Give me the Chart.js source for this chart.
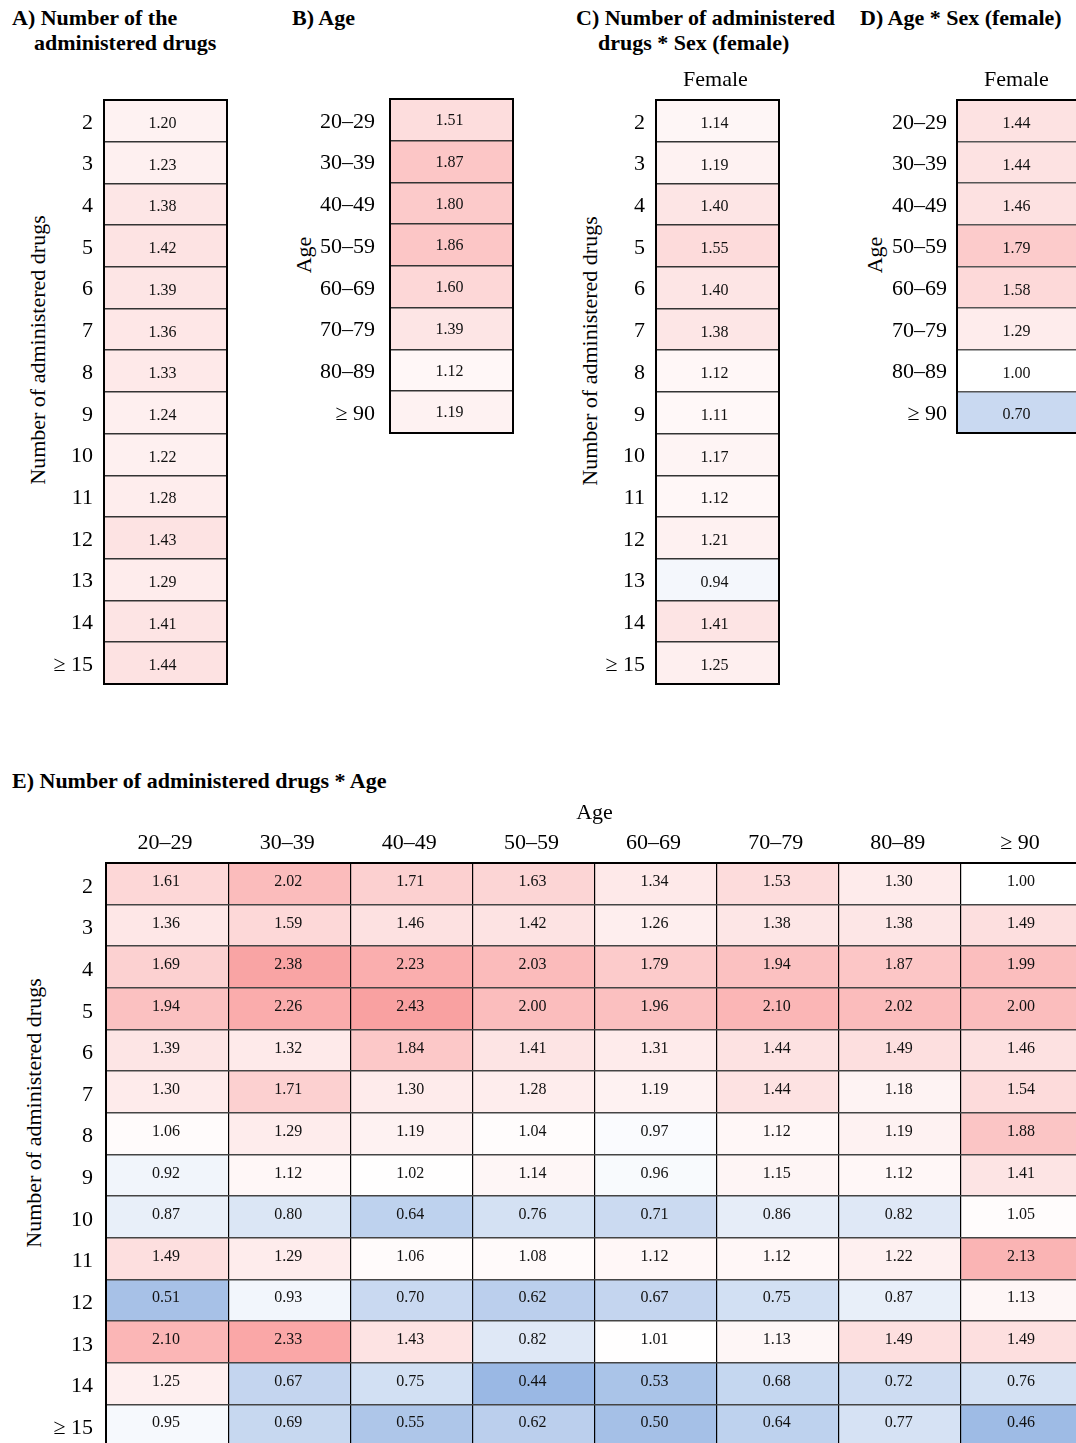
<!DOCTYPE html>
<html>
<head>
<meta charset="utf-8">
<title>Odds ratios by number of administered drugs, age and sex</title>
<script src="https://cdn.jsdelivr.net/npm/chart.js@4.4.1/dist/chart.umd.min.js"></script>
<style>
  html, body { margin: 0; padding: 0; background: #fff; }
  body {
    width: 1076px; height: 1443px; overflow: hidden; position: relative;
    font-family: 'Liberation Serif', 'Times New Roman', serif; color: #000;
  }
  .panel-title {
    position: absolute; font-weight: bold; font-size: 22px; line-height: 25px; white-space: nowrap;
  }
  .panel-title .cont { padding-left: 22px; }
  .axis-title {
    position: absolute; font-size: 22px; line-height: 26px; white-space: nowrap;
    transform: translate(-50%, -50%) rotate(-90deg);
  }
  canvas { position: absolute; }
</style>
</head>
<body>

<div class="panel-title" style="left:12px;top:5px">A) Number of the<br><span class="cont">administered drugs</span></div>
<div class="panel-title" style="left:292px;top:5px">B) Age</div>
<div class="panel-title" style="left:576px;top:5px">C) Number of administered<br><span class="cont">drugs * Sex (female)</span></div>
<div class="panel-title" style="left:860px;top:5px">D) Age * Sex (female)</div>
<div class="panel-title" style="left:12px;top:768px">E) Number of administered drugs * Age</div>

<div class="axis-title" style="left:38px;top:350px">Number of administered drugs</div>
<div class="axis-title" style="left:304px;top:255px">Age</div>
<div class="axis-title" style="left:590px;top:351px">Number of administered drugs</div>
<div class="axis-title" style="left:875px;top:255px">Age</div>
<div class="axis-title" style="left:34px;top:1113px">Number of administered drugs</div>

<canvas id="chartA" width="240" height="620" style="left:0px;top:80px"></canvas>
<canvas id="chartB" width="250" height="370" style="left:280px;top:80px"></canvas>
<canvas id="chartC" width="240" height="650" style="left:560px;top:50px"></canvas>
<canvas id="chartD" width="240" height="400" style="left:850px;top:50px"></canvas>
<canvas id="chartE" width="1100" height="660" style="left:0px;top:800px"></canvas>

<script>
// Row / column categories
const drugCounts = ['2', '3', '4', '5', '6', '7', '8', '9', '10', '11', '12', '13', '14', '≥ 15'];
const ageGroups = ['20–29', '30–39', '40–49', '50–59', '60–69', '70–79', '80–89', '≥ 90'];
const femaleHeader = ['Female'];

// A) number of administered drugs
const drugsOR = [1.20, 1.23, 1.38, 1.42, 1.39, 1.36, 1.33, 1.24, 1.22, 1.28, 1.43, 1.29, 1.41, 1.44];
// B) age
const ageOR = [1.51, 1.87, 1.80, 1.86, 1.60, 1.39, 1.12, 1.19];
// C) number of administered drugs * sex (female)
const drugsFemaleOR = [1.14, 1.19, 1.40, 1.55, 1.40, 1.38, 1.12, 1.11, 1.17, 1.12, 1.21, 0.94, 1.41, 1.25];
// D) age * sex (female)
const ageFemaleOR = [1.44, 1.44, 1.46, 1.79, 1.58, 1.29, 1.00, 0.70];
// E) number of administered drugs * age (one row per drug count, one entry per age group)
const drugsByAgeOR = [
  [1.61, 2.02, 1.71, 1.63, 1.34, 1.53, 1.30, 1.00],
  [1.36, 1.59, 1.46, 1.42, 1.26, 1.38, 1.38, 1.49],
  [1.69, 2.38, 2.23, 2.03, 1.79, 1.94, 1.87, 1.99],
  [1.94, 2.26, 2.43, 2.00, 1.96, 2.10, 2.02, 2.00],
  [1.39, 1.32, 1.84, 1.41, 1.31, 1.44, 1.49, 1.46],
  [1.30, 1.71, 1.30, 1.28, 1.19, 1.44, 1.18, 1.54],
  [1.06, 1.29, 1.19, 1.04, 0.97, 1.12, 1.19, 1.88],
  [0.92, 1.12, 1.02, 1.14, 0.96, 1.15, 1.12, 1.41],
  [0.87, 0.80, 0.64, 0.76, 0.71, 0.86, 0.82, 1.05],
  [1.49, 1.29, 1.06, 1.08, 1.12, 1.12, 1.22, 2.13],
  [0.51, 0.93, 0.70, 0.62, 0.67, 0.75, 0.87, 1.13],
  [2.10, 2.33, 1.43, 0.82, 1.01, 1.13, 1.49, 1.49],
  [1.25, 0.67, 0.75, 0.44, 0.53, 0.68, 0.72, 0.76],
  [0.95, 0.69, 0.55, 0.62, 0.50, 0.64, 0.77, 0.46]
];

const SERIF = "'Liberation Serif', 'Times New Roman', serif";
Chart.defaults.font.family = SERIF;
Chart.defaults.color = '#000';

// Diverging scale: white at 1, red above, blue below
function cellColor(v) {
  const c = (r, g, b) => `rgb(${Math.round(r)},${Math.round(g)},${Math.round(b)})`;
  if (v >= 1) {
    const d = v - 1;
    return c(255 - 4 * d, 255 - 66 * d, 255 - 66 * d);
  }
  const d = 1 - v;
  return c(255 - 180 * d, 255 - 126 * d, 255 - 48 * d);
}

// Writes each cell's value in its centre
const cellText = {
  id: 'cellText',
  afterDatasetsDraw(chart, args, opts) {
    const ctx = chart.ctx;
    ctx.save();
    ctx.font = opts.font;
    ctx.fillStyle = opts.color;
    ctx.textAlign = 'center';
    ctx.textBaseline = 'middle';
    chart.data.datasets.forEach((ds, j) => {
      chart.getDatasetMeta(j).data.forEach((bar, i) => {
        const p = bar.getCenterPoint();
        ctx.fillText(ds.cellValues[i].toFixed(2), p.x + (opts.dx || 0), p.y + (opts.dy || 0));
      });
    });
    ctx.restore();
  }
};

// Black outline round the table
const frame = {
  id: 'frame',
  afterDraw(chart) {
    const { ctx, chartArea: a } = chart;
    ctx.save();
    ctx.strokeStyle = '#000';
    ctx.lineWidth = 2;
    ctx.strokeRect(a.left, a.top, a.right - a.left, a.bottom - a.top);
    ctx.restore();
  }
};

function heatmap(id, cfg) {
  const { rows, cols, values, yWidth, yPad, yShift, xHeight, xPad, padding, dx, dy, rowLine, xTitle } = cfg;
  const datasets = cols.map((col, j) => ({
    label: col,
    data: rows.map(() => 1),
    cellValues: rows.map((_, i) => values[i][j]),
    backgroundColor: rows.map((_, i) => cellColor(values[i][j])),
    borderWidth: 0,
    barPercentage: 1,
    categoryPercentage: 1
  }));
  const showX = xHeight > 0;
  return new Chart(document.getElementById(id), {
    type: 'bar',
    data: { labels: rows, datasets },
    options: {
      indexAxis: 'y',
      responsive: false,
      animation: false,
      devicePixelRatio: 1,
      events: [],
      layout: { padding },
      plugins: {
        legend: { display: false },
        tooltip: { enabled: false },
        cellText: { font: `16px ${SERIF}`, color: '#111', dx, dy },
      },
      scales: {
        x: {
          type: 'linear',
          position: 'top',
          stacked: true,
          min: 0,
          max: cols.length,
          display: showX,
          afterBuildTicks: (s) => { s.ticks = cols.map((_, j) => ({ value: j + 0.5 })); },
          afterFit: (s) => { s.height = xHeight; s.paddingLeft = 0; s.paddingRight = 0; },
          ticks: {
            autoSkip: false,
            maxRotation: 0,
            padding: xPad,
            labelOffset: -2,
            font: { size: 22 },
            color: '#000',
            callback: (v, i) => cols[i]
          },
          grid: {
            display: cols.length > 1,
            offset: true,
            drawTicks: false,
            color: '#000',
            lineWidth: 1.2,
            z: 1
          },
          border: { display: false },
          title: xTitle ? {
            display: true, text: xTitle, color: '#000',
            font: { size: 22 }, padding: { top: 0, bottom: 0 }
          } : { display: false }
        },
        y: {
          type: 'category',
          stacked: true,
          offset: true,
          afterFit: (s) => { s.width = yWidth; s.paddingTop = 0; s.paddingBottom = 0; },
          ticks: {
            autoSkip: false,
            padding: yPad,
            labelOffset: yShift,
            font: { size: 22 },
            color: '#000'
          },
          grid: {
            offset: true,
            drawTicks: false,
            color: rowLine,
            lineWidth: 1.6,
            z: 1
          },
          border: { display: false }
        }
      }
    },
    plugins: [cellText, frame]
  });
}

const column = (arr) => arr.map(v => [v]);

heatmap('chartA', {
  rows: drugCounts, cols: ['OR'], values: column(drugsOR),
  yWidth: 104, yPad: 11, yShift: 2, xHeight: 0, xPad: 7,
  padding: { left: 0, top: 20, right: 13, bottom: 16 }, dx: -3, dy: 3, rowLine: '#333'
});

heatmap('chartB', {
  rows: ageGroups, cols: ['OR'], values: column(ageOR),
  yWidth: 110, yPad: 15, yShift: 2, xHeight: 0, xPad: 7,
  padding: { left: 0, top: 19, right: 17, bottom: 17 }, dx: -2, dy: 1, rowLine: '#333'
});

heatmap('chartC', {
  rows: drugCounts, cols: femaleHeader, values: column(drugsFemaleOR),
  yWidth: 96, yPad: 11, yShift: 2, xHeight: 50, xPad: 7,
  padding: { left: 0, top: 0, right: 21, bottom: 16 }, dx: -3, dy: 3, rowLine: '#333'
});

heatmap('chartD', {
  rows: ageGroups, cols: femaleHeader, values: column(ageFemaleOR),
  yWidth: 107, yPad: 10, yShift: 2, xHeight: 50, xPad: 7,
  padding: { left: 0, top: 0, right: 10, bottom: 17 }, dx: -2, dy: 3, rowLine: '#555'
});

heatmap('chartE', {
  rows: drugCounts, cols: ageGroups, values: drugsByAgeOR,
  yWidth: 106, yPad: 13, yShift: 3, xHeight: 63, xPad: 7, xTitle: 'Age',
  padding: { left: 0, top: 0, right: 17, bottom: 14 }, dx: -1, dy: -2, rowLine: '#444'
});
</script>
</body>
</html>
